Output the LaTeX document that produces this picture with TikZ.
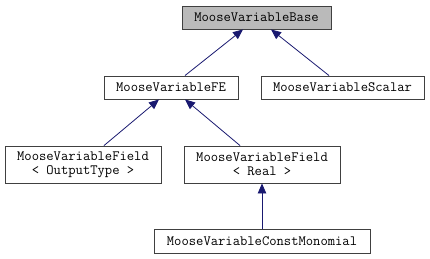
\documentclass[tikz,border=0pt]{standalone}
\usepackage{fontspec}
\usetikzlibrary{arrows.meta}
\definecolor{edgeblue}{HTML}{191970}
\begin{document}
\begin{tikzpicture}[x=1pt,y=-1pt,
  cls/.style={draw=black!75, line width=0.9pt, fill=white, inner sep=0pt,
    font=\fontsize{14.2}{14}\selectfont\ttfamily, align=center},
  inherit/.style={draw=edgeblue, line width=0.8pt,
    -{Triangle[length=10pt,width=8.5pt]}, shorten >=0pt}]
  \useasboundingbox (0,0) rectangle (430,259);
  \node[cls, fill=black!27, minimum width=149pt, minimum height=23pt] (base) at (256.5,17.5) {MooseVariableBase};
  \node[cls, minimum width=134pt, minimum height=23pt] (fe) at (171,87.5) {MooseVariableFE};
  \node[cls, minimum width=163pt, minimum height=23pt] (scalar) at (342.5,87.5) {MooseVariableScalar};
  \node[cls, minimum width=156pt, minimum height=37pt] (fout) at (83,164.5) {MooseVariableField\\< OutputType >};
  \node[cls, minimum width=156pt, minimum height=37pt] (freal) at (262,164.5) {MooseVariableField\\< Real >};
  \node[cls, minimum width=216pt, minimum height=24pt] (mono) at (262,241) {MooseVariableConstMonomial};
  \draw[inherit] ([xshift=14pt]fe.north) -- ([xshift=-13.5pt]base.south);
  \draw[inherit] ([xshift=-13.5pt]scalar.north) -- ([xshift=14.5pt]base.south);
  \draw[inherit] ([xshift=21pt]fout.north) -- ([xshift=-12pt]fe.south);
  \draw[inherit] ([xshift=-22pt]freal.north) -- ([xshift=14pt]fe.south);
  \draw[inherit] (mono.north) -- (freal.south);
\end{tikzpicture}
\end{document}
